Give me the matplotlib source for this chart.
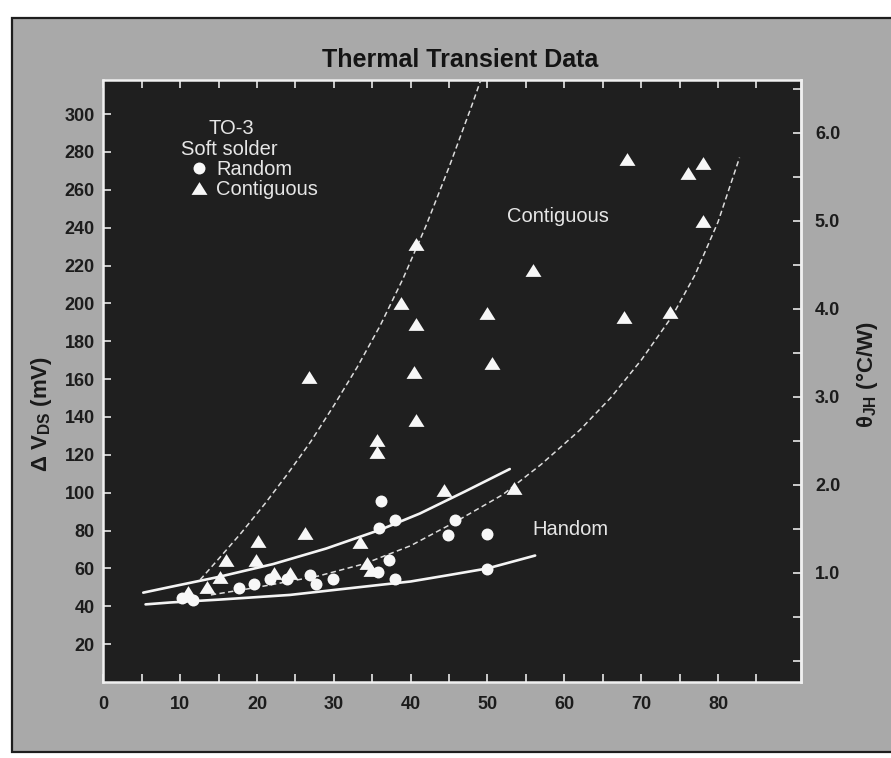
import matplotlib
matplotlib.use("Agg")
import matplotlib.pyplot as plt
from matplotlib.patches import Rectangle
from matplotlib.ticker import MultipleLocator, FixedLocator

# ---------------- data ----------------
random_x = [10.3, 11.7, 17.6, 19.6, 21.7, 23.9, 26.9, 27.7, 29.9, 35.8,
            35.9, 36.1, 37.2, 37.9, 37.9, 44.9, 45.8, 49.9, 49.9]
random_v = [44.3, 43.2, 49.6, 51.8, 54.2, 54.2, 56.6, 51.8, 54.2, 58.3,
            81.4, 95.4, 64.2, 85.4, 54.3, 77.9, 85.4, 78.4, 59.8]

contig_x = [11.0, 13.5, 15.2, 16.0, 19.9, 20.1, 22.2, 24.3, 26.3, 26.8,
            33.4, 34.3, 34.8, 35.6, 35.6, 38.8, 40.5, 40.7, 40.7, 40.7,
            44.3, 50.0, 50.6, 53.4, 55.9, 67.8, 68.2, 73.7, 76.1, 78.0, 78.0]
contig_v = [47.5, 50.4, 55.7, 64.5, 64.2, 74.7, 57.5, 57.8, 78.6, 161.3,
            73.7, 62.8, 59.4, 121.7, 127.9, 200.4, 163.9, 138.4, 189.1, 231.4,
            101.6, 195.1, 168.4, 102.5, 217.6, 193.0, 276.1, 195.6, 268.7, 274.0, 243.7]

upper_solid_x = [5.2, 8.7, 15.0, 22.1, 29.0, 36.1, 41.2, 47.0, 52.9]
upper_solid_v = [47.2, 50.2, 55.5, 62.3, 70.5, 80.5, 89.0, 100.5, 112.5]

lower_solid_x = [5.5, 8.7, 15.0, 24.3, 32.0, 40.0, 45.0, 50.0, 56.2]
lower_solid_v = [41.0, 42.0, 43.5, 46.0, 49.5, 53.1, 56.5, 60.0, 66.8]

mid_dash_x = [14.0, 20.0, 28.0, 34.0, 40.0, 46.0, 52.0, 57.0, 62.0, 66.0,
              70.0, 74.0, 77.0, 80.0, 82.8]
mid_dash_v = [46.0, 50.0, 56.0, 62.5, 72.0, 85.0, 99.0, 115.0, 133.0, 150.0,
              170.0, 193.0, 215.0, 243.0, 277.0]

steep_dash_x = [12.6, 15.0, 18.0, 21.0, 24.0, 27.0, 30.0, 33.0, 36.0, 39.0,
                42.0, 45.0, 48.0, 49.3]
steep_dash_v = [54.0, 65.0, 79.0, 94.0, 110.0, 127.0, 146.0, 166.0, 188.0, 213.0,
                241.0, 272.0, 305.0, 320.0]

x_ticklabels = ["0", "10", "20", "30", "40", "50", "60", "70", "80"]
y_ticks = [20, 40, 60, 80, 100, 120, 140, 160, 180, 200, 220, 240, 260, 280, 300]
theta_ticks = [1.0, 2.0, 3.0, 4.0, 5.0, 6.0]

# conversion between left (mV) and right (degC/W) scales
THETA_REF, V_REF, V_PER_THETA = 1.0, 57.6, 46.5

# ---------------- figure ----------------
W, H = 891, 758
fig = plt.figure(figsize=(W / 100, H / 100), dpi=100, facecolor="white")

# scanned grey page with dark frame
fig.patches.append(Rectangle((12 / W, 1 - 752 / H), 1.0, (752 - 18) / H,
                             transform=fig.transFigure, facecolor="#a9a9a9",
                             edgecolor="#1e1e1e", linewidth=1.6, zorder=-5))

ax = fig.add_axes([103.3 / W, 1 - 682 / H, (801 - 103.3) / W, (682 - 80) / H])
ax.set_facecolor("#1f1f1f")
ax.set_xlim(0, 90.8)
ax.set_ylim(0, 318)
for s in ax.spines.values():
    s.set_color("#f0f0f0")
    s.set_linewidth(1.8)

FAM = ["Liberation Sans", "DejaVu Sans"]
tick_col = "#1c1c1c"

ax.xaxis.set_major_locator(FixedLocator(list(range(0, 90, 5))))
ax.set_xticklabels([x_ticklabels[i // 2] if i % 2 == 0 else "" for i in range(18)])
ax.set_yticks(y_ticks)
ax.tick_params(axis="both", which="both", direction="in", color="#e8e8e8",
               length=6, width=1.2, labelsize=13, labelcolor=tick_col,
               top=True, right=False)
ax.tick_params(axis="x", pad=10)
ax.tick_params(axis="y", pad=6)
for t in ax.get_xticklabels() + ax.get_yticklabels():
    t.set_fontfamily(FAM)
    t.set_fontweight("bold")

# right axis in degC/W
def v2t(v):
    return THETA_REF + (v - V_REF) / V_PER_THETA

def t2v(t):
    return V_REF + (t - THETA_REF) * V_PER_THETA

sec = ax.secondary_yaxis("right", functions=(v2t, t2v))
sec.set_yticks(theta_ticks)
sec.yaxis.set_minor_locator(MultipleLocator(0.5))
sec.set_yticklabels([f"{t:.1f}" for t in theta_ticks])
sec.tick_params(axis="y", which="both", direction="in", color="#e8e8e8",
                length=6, width=1.2, labelsize=13, labelcolor=tick_col, pad=10)
sec.spines["right"].set_color("#f0f0f0")
sec.spines["right"].set_linewidth(1.8)
for t in sec.get_yticklabels():
    t.set_fontfamily(FAM)
    t.set_fontweight("bold")

# curves
ax.plot(upper_solid_x, upper_solid_v, color="#f4f4f4", lw=1.9,
        solid_capstyle="round", solid_joinstyle="round", zorder=3)
ax.plot(lower_solid_x, lower_solid_v, color="#f4f4f4", lw=1.9,
        solid_capstyle="round", solid_joinstyle="round", zorder=3)
ax.plot(mid_dash_x, mid_dash_v, color="#dcdcdc", lw=1.1, ls=(0, (3.5, 2.2)), zorder=3)
ax.plot(steep_dash_x, steep_dash_v, color="#dcdcdc", lw=1.1, ls=(0, (3.5, 2.2)), zorder=3)

tri = [(-1, -0.8), (1, -0.8), (0, 0.8)]
h_rand, = ax.plot(random_x, random_v, ls="none", marker="o", ms=8.6,
                  mfc="#f7f7f7", mec="none", zorder=5, label="Random")
h_cont, = ax.plot(contig_x, contig_v, ls="none", marker=tri, ms=11.5,
                  mfc="#f7f7f7", mec="none", zorder=5, label="Contiguous")

txt_font = dict(family=FAM, color="#e6e6e6", fontsize=14.5)
ax.text(16.7, 292.4, "TO-3", ha="center", va="center", **txt_font)
ax.text(16.4, 281.5, "Soft solder", ha="center", va="center", **txt_font)
ax.text(59.2, 246, "Contiguous", ha="center", va="center", **txt_font)
ax.text(60.8, 80.4, "Handom", ha="center", va="center", **txt_font)

leg = ax.legend(handles=[h_rand, h_cont], loc="upper left",
                bbox_to_anchor=(189 / W, 1 - 160 / H), bbox_transform=fig.transFigure,
                frameon=False, borderpad=0, borderaxespad=0, handlelength=1.0,
                handletextpad=0.35, labelspacing=0.05,
                prop={"family": FAM, "size": 14.5})
for t in leg.get_texts():
    t.set_color("#e6e6e6")

# axis labels
fig.text(41.7 / W, 1 - 414 / H, "Δ V$_{\\mathregular{DS}}$ (mV)", rotation=90,
         ha="center", va="center", fontsize=16, color="#1a1a1a",
         family=FAM, weight="bold")
fig.text(866.7 / W, 1 - 375 / H, "θ$_{\\mathregular{JH}}$ (°C/W)", rotation=90,
         ha="center", va="center", fontsize=16, color="#1a1a1a",
         family=FAM, weight="bold")

fig.text(460 / W, 1 - 60 / H, "Thermal Transient Data", ha="center", va="center",
         fontsize=18, color="#141414", family=FAM, weight="bold")

fig.savefig("out.png", dpi=100, facecolor=fig.get_facecolor())
